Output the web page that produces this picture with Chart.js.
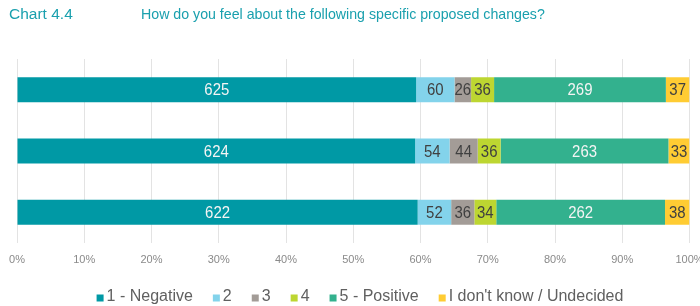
<!DOCTYPE html>
<html>
<head>
<meta charset="utf-8">
<script src="https://cdn.jsdelivr.net/npm/chart.js@4.4.1/dist/chart.umd.min.js"></script>
<style>
  body { margin: 0; background: #fff; }
  #wrap { position: relative; width: 700px; height: 306px; }
  .title { position: absolute; font-family: 'Liberation Sans', Arial, sans-serif; color: #1AA0AE; white-space: nowrap; z-index: 2; }
  #chartNo { left: 9px; top: 5px; font-size: 15.5px; }
  #chartQ { left: 141px; top: 6px; font-size: 14.2px; }
  #chartBox { position: absolute; left: 0; top: 0; width: 700px; height: 306px; }
</style>
</head>
<body>
<div id="wrap">
  <div class="title" id="chartNo">Chart 4.4</div>
  <div class="title" id="chartQ">How do you feel about the following specific proposed changes?</div>
  <div id="chartBox"><canvas id="chart"></canvas></div>
</div>
<script>
// --- Data ---
const categories = ['Change A', 'Change B', 'Change C'];
const seriesNames = ['1 - Negative', '2', '3', '4', '5 - Positive', "I don't know / Undecided"];
const negative = [625, 624, 622];
const two = [60, 54, 52];
const three = [26, 44, 36];
const four = [36, 36, 34];
const positive = [269, 263, 262];
const undecided = [37, 33, 38];
const tickLabels = ['0%', '10%', '20%', '30%', '40%', '50%', '60%', '70%', '80%', '90%', '100%'];

const seriesCounts = [negative, two, three, four, positive, undecided];
const seriesColors = ['#0099A5', '#83D3EB', '#A39C97', '#BDD631', '#33B18E', '#FFCC33'];
const labelColors = ['#F4F4F4', '#404040', '#404040', '#404040', '#F4F4F4', '#404040'];

const FONT = "'Liberation Sans', Arial, sans-serif";

// totals per bar, used to turn counts into 100% stacks
const totals = categories.map((c, i) => seriesCounts.reduce((s, arr) => s + arr[i], 0));

const datasets = seriesNames.map((name, k) => ({
    label: name,
    data: seriesCounts[k].map((v, i) => v / totals[i] * 100),
    counts: seriesCounts[k],
    backgroundColor: seriesColors[k],
    labelColor: labelColors[k],
    borderWidth: 0,
    barPercentage: 0.8,
    categoryPercentage: 0.51
}));

// --- Value labels drawn in the middle of each segment ---
const valueLabels = {
    id: 'valueLabels',
    afterDatasetsDraw(chart) {
        const ctx = chart.ctx;
        chart.data.datasets.forEach((ds, di) => {
            const meta = chart.getDatasetMeta(di);
            meta.data.forEach((bar, i) => {
                const cx = (bar.x + bar.base) / 2;
                ctx.save();
                ctx.translate(cx, bar.y + 1);
                ctx.scale(0.88, 1);   // slightly condensed like the original
                ctx.font = '17px ' + FONT;
                ctx.textAlign = 'center';
                ctx.textBaseline = 'middle';
                ctx.fillStyle = ds.labelColor;
                ctx.fillText(String(ds.counts[i]), 0, 0);
                ctx.restore();
            });
        });
    }
};

// --- Legend drawn by hand so spacing matches ---
const bottomLegend = {
    id: 'bottomLegend',
    afterDraw(chart) {
        const ctx = chart.ctx;
        const box = 7, boxGap = 3, itemGap = 20, centerX = 360, y = 297;
        ctx.save();
        ctx.font = '16px ' + FONT;
        ctx.textBaseline = 'middle';
        const widths = seriesNames.map(n => ctx.measureText(n).width);
        const total = widths.reduce((s, w) => s + box + boxGap + w, 0) + itemGap * (seriesNames.length - 1);
        let x = centerX - total / 2;
        seriesNames.forEach((name, k) => {
            ctx.fillStyle = seriesColors[k];
            ctx.fillRect(x, y - box / 2 + 1, box, box);
            x += box + boxGap;
            ctx.fillStyle = '#606060';
            ctx.fillText(name, x, y);
            x += widths[k] + itemGap;
        });
        ctx.restore();
    }
};

new Chart(document.getElementById('chart'), {
    type: 'bar',
    data: { labels: categories, datasets: datasets },
    plugins: [valueLabels, bottomLegend],
    options: {
        indexAxis: 'y',
        responsive: true,
        maintainAspectRatio: false,
        animation: false,
        layout: { padding: { top: 59, left: 17, right: 10.5, bottom: 33 } },
        plugins: {
            legend: { display: false },
            tooltip: { enabled: false }
        },
        scales: {
            x: {
                stacked: true, min: 0, max: 100,
                grid: { color: '#E3E3E3', drawTicks: false },
                border: { display: false },
                ticks: {
                    stepSize: 10, padding: 10,
                    color: '#8A8A8A',
                    font: { family: FONT, size: 11 },
                    callback: (v, idx) => tickLabels[idx]
                },
                afterFit(scale) {
                    scale.height = 30;
                    scale.paddingLeft = 0;
                    scale.paddingRight = 0;
                }
            },
            y: { stacked: true, display: false }
        }
    }
});
</script>
</body>
</html>
